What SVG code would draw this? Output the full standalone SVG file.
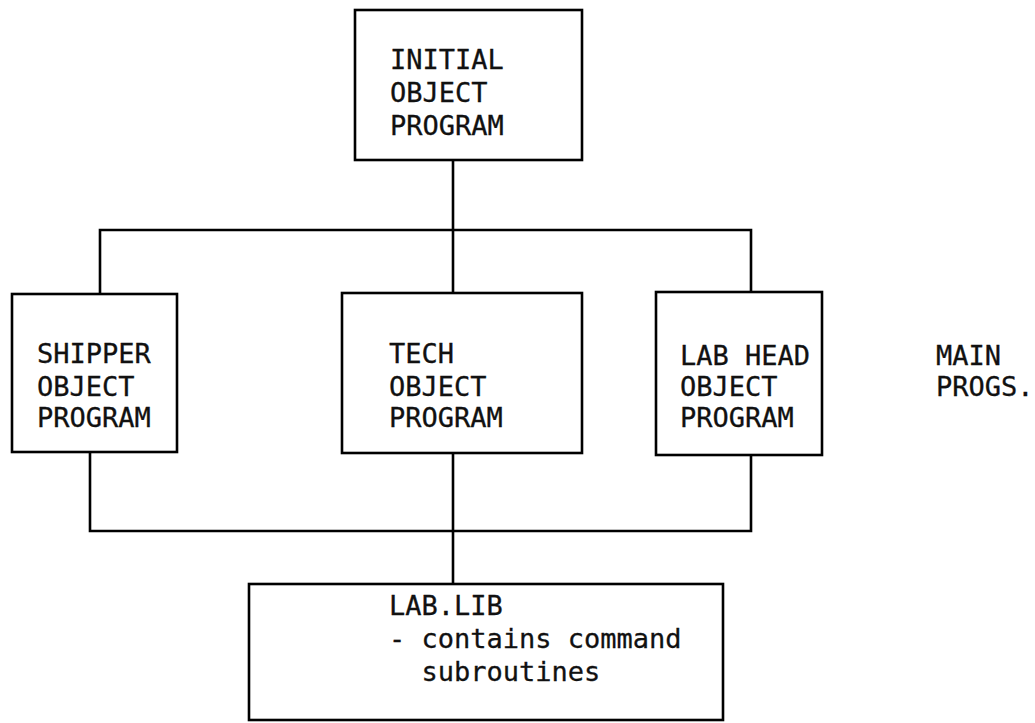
<svg xmlns="http://www.w3.org/2000/svg" width="1035" height="723" viewBox="0 0 1035 723">
<style>
.box{fill:none;stroke:#000;stroke-width:2.6}
.ln{fill:none;stroke:#000;stroke-width:2.6}
text{font-family:"DejaVu Sans Mono","Liberation Mono",monospace;font-size:27px;fill:#111;stroke:#111;stroke-width:0.3}
</style>
<rect width="1035" height="723" fill="#fff"/>
<g id="connectors">
<path class="ln" d="M453,160 V230"/>
<path class="ln" d="M100,294 V230 H751 V292"/>
<path class="ln" d="M453,230 V293"/>
<path class="ln" d="M90,452 V531 H751 V455"/>
<path class="ln" d="M453,453 V584"/>
</g>
<g id="initial">
<rect class="box" x="355" y="10" width="227" height="150"/>
<text x="390" y="69">INITIAL</text>
<text x="390" y="102">OBJECT</text>
<text x="390" y="135">PROGRAM</text>
</g>
<g id="shipper">
<rect class="box" x="12" y="294" width="165" height="158"/>
<text x="37" y="363">SHIPPER</text>
<text x="37" y="396">OBJECT</text>
<text x="37" y="427">PROGRAM</text>
</g>
<g id="tech">
<rect class="box" x="342" y="293" width="240" height="160"/>
<text x="389" y="363">TECH</text>
<text x="389" y="396">OBJECT</text>
<text x="389" y="427">PROGRAM</text>
</g>
<g id="labhead">
<rect class="box" x="656" y="292" width="166" height="163"/>
<text x="680" y="365">LAB HEAD</text>
<text x="680" y="396">OBJECT</text>
<text x="680" y="427">PROGRAM</text>
</g>
<g id="mainprogs">
<text x="936" y="365">MAIN</text>
<text x="936" y="396">PROGS.</text>
</g>
<g id="lablib">
<rect class="box" x="249" y="584" width="474" height="136"/>
<text x="389" y="615">LAB.LIB</text>
<text x="389" y="648">- contains command</text>
<text x="421.5" y="681">subroutines</text>
</g>
</svg>
